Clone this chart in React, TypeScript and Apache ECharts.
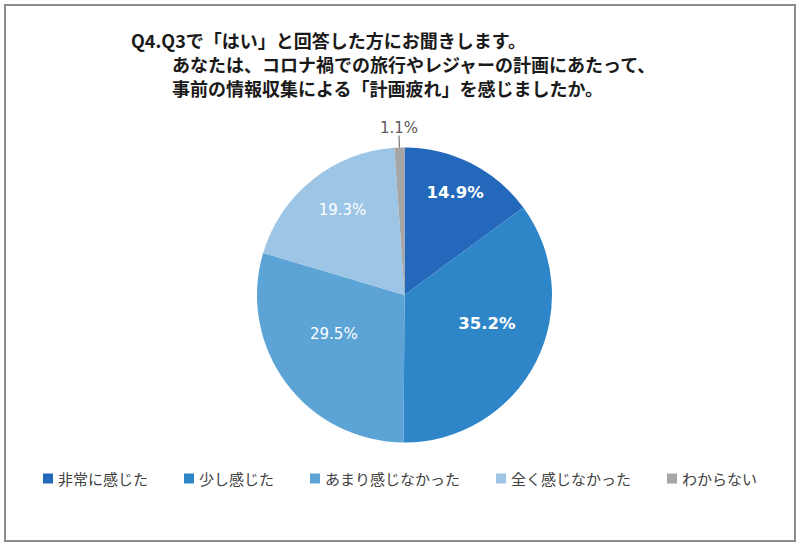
import React, { useEffect, useRef } from "react";
import * as echarts from "echarts";

const titleLines = [
  "Q4.Q3で「はい」と回答した方にお聞きします。",
  "あなたは、コロナ禍での旅行やレジャーの計画にあたって、",
  "事前の情報収集による「計画疲れ」を感じましたか。",
];
const categories = ["非常に感じた", "少し感じた", "あまり感じなかった", "全く感じなかった", "わからない"];
const values = [14.9, 35.2, 29.5, 19.3, 1.1];
const colors = ["#2468bb", "#2e86c8", "#5ca3d6", "#9cc5e6", "#a6a6a6"];
const labelOffsets: number[][] = [[16, -34], [14, -6], [-9, -7], [-14, -25], [0, 0]];
const labelBold = [true, true, false, false, false];

const titleX = [131, 172, 172];
const titleY = [39.5, 64, 88];

export default function App() {
  const ref = useRef<HTMLDivElement>(null);
  useEffect(() => {
    document.body.style.margin = "0";
    const chart = echarts.init(ref.current!, undefined, { renderer: "svg" });
    const data = categories.map((name, i) => {
      const isOut = i === 4;
      return {
        name,
        value: values[i],
        itemStyle: { color: colors[i] },
        label: isOut
          ? {
              show: true,
              position: "outside",
              color: "#595959",
              fontSize: 15,
              fontFamily: "DejaVu Sans",
              distanceToLabelLine: 0,
            }
          : {
              show: true,
              position: "inside",
              color: "#ffffff",
              fontSize: labelBold[i] ? 16.5 : 15,
              fontWeight: labelBold[i] ? "bold" : "normal",
              fontFamily: "DejaVu Sans",
              offset: labelOffsets[i],
            },
        labelLine: isOut
          ? { show: true, length: 12, length2: 0, lineStyle: { color: "#595959", width: 1 } }
          : { show: false },
      };
    });
    chart.setOption({
      animation: false,
      backgroundColor: "#ffffff",
      legend: {
        data: categories,
        left: "center",
        top: 466,
        icon: "rect",
        itemWidth: 10,
        itemHeight: 10,
        itemGap: 36,
        textStyle: { fontSize: 15, color: "#404040", fontFamily: "Noto Sans CJK JP" },
      },
      graphic: [
        {
          type: "rect",
          shape: { x: 5, y: 5, width: 790, height: 536 },
          style: { fill: "none", stroke: "#8c8c8c", lineWidth: 2 },
          silent: true,
        },
        ...titleLines.map((t, i) => ({
          type: "text",
          x: titleX[i],
          y: titleY[i],
          silent: true,
          style: {
            text: t,
            fill: "#1a1a1a",
            fontSize: 18,
            fontWeight: "bold",
            fontFamily: "Noto Sans CJK JP",
            verticalAlign: "middle",
          },
        })),
      ],
      series: [
        {
          type: "pie",
          center: [404.5, 295],
          radius: 147.5,
          startAngle: 90,
          clockwise: true,
          avoidLabelOverlap: false,
          label: { formatter: (p: any) => p.value.toFixed(1) + "%" },
          labelLayout: (params: any) =>
            params.dataIndex === 4 ? { align: "center", verticalAlign: "bottom" } : {},
          data,
        },
      ],
    });
    return () => chart.dispose();
  }, []);
  return <div ref={ref} style={{ width: 800, height: 547 }} />;
}
